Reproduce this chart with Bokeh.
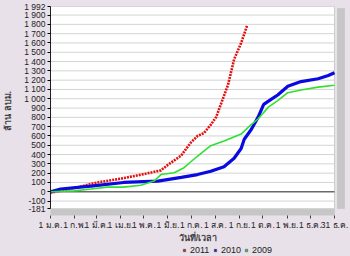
from bokeh.plotting import figure
from bokeh.models import (FixedTicker, LinearAxis, Range1d, Legend, LegendItem,
                          ColumnDataSource, BoxAnnotation)
from bokeh.layouts import column
from bokeh.embed import file_html
from bokeh.resources import INLINE

# ---- data (day of year, cumulative volume, million m3) ----
days_2011 = [0, 31, 60, 90, 120, 142, 151, 168, 180, 189, 197, 206, 213, 222, 228, 236, 245, 253]
vals_2011 = [-10, 40, 100, 140, 190, 230, 290, 390, 525, 600, 630, 720, 805, 1010, 1145, 1425, 1600, 1795]

days_2010 = [0, 13, 52, 94, 138, 168, 189, 206, 223, 236, 245, 249, 258, 267, 274, 283, 292, 305, 322, 344, 357, 365]
vals_2010 = [0, 30, 60, 100, 115, 155, 185, 220, 270, 360, 465, 565, 670, 805, 940, 990, 1040, 1135, 1185, 1215, 1250, 1280]

days_2009 = [0, 30, 52, 73, 94, 116, 133, 142, 159, 171, 180, 193, 206, 223, 245, 255, 267, 280, 292, 305, 322, 344, 365]
vals_2009 = [0, 10, 30, 50, 50, 70, 115, 185, 205, 255, 320, 410, 495, 545, 620, 700, 785, 910, 980, 1065, 1095, 1125, 1145]

x_tick_days = [0, 31, 59, 90, 120, 151, 181, 212, 243, 273, 304, 334, 365]
x_tick_labels = ["1 ม.ค.", "1 ก.พ.", "1 มี.ค.", "1 เม.ย.", "1 พ.ค.", "1 มิ.ย.", "1 ก.ค.",
                 "1 ส.ค.", "1 ก.ย.", "1 ต.ค.", "1 พ.ย.", "1 ธ.ค.", "31 ธ.ค."]
y_ticks = [-181, -100] + list(range(0, 2000, 100)) + [1992]
x_min, x_max = 0, 365
y_min, y_max = -181, 1992
series_names = ["2011", "2010", "2009"]
series_colors = ["#e41010", "#0a0ae0", "#30e030"]
series_days = [days_2011, days_2010, days_2009]
series_vals = [vals_2011, vals_2010, vals_2009]

def fmt(v):
    s = f"{abs(v):,}".replace(",", " ")
    return ("-" if v < 0 else "") + s

BG = "#e9e1e9"
STRIP = "#c6c6c6"
FONT = "Liberation Sans"

# layout geometry (pixels)
W, H, LEG_H = 350, 245, 11
LEFT, TOP, RIGHT_B, BOTTOM_B = 50, 6, 5, 27
STRIP_H = 7
frame_w = W - LEFT - RIGHT_B
frame_h = H - TOP - BOTTOM_B
plot_w_px, plot_h_px = 284, frame_h - STRIP_H     # white area
upx_x = (x_max - x_min) / plot_w_px
upx_y = (y_max - y_min) / plot_h_px
x_end = x_min + frame_w * upx_x
y_start = y_max - frame_h * upx_y

p = figure(width=W, height=H, output_backend="svg", toolbar_location=None,
           x_range=Range1d(x_min, x_end), y_range=Range1d(y_start, y_max),
           x_axis_location=None, y_axis_location=None,
           min_border_left=LEFT, min_border_right=RIGHT_B, min_border_top=TOP,
           min_border_bottom=BOTTOM_B)
p.background_fill_color = BG
p.border_fill_color = BG
p.outline_line_color = None
p.xgrid.visible = False
p.ygrid.visible = False

# white chart area + scroll strips
p.add_layout(BoxAnnotation(left=x_min, right=x_max, bottom=y_min, top=y_max,
                           fill_color="white", fill_alpha=1, line_color="#7a7a7a",
                           line_width=1, level="underlay"))
p.add_layout(BoxAnnotation(left=x_min, right=x_max, bottom=y_start, top=y_min - 1 * upx_y,
                           fill_color=STRIP, fill_alpha=1, line_color="#b0b0b0",
                           line_width=1, level="underlay"))
p.add_layout(BoxAnnotation(left=x_max + 3 * upx_x, right=x_max + 10 * upx_x,
                           bottom=y_min, top=y_max - 2 * upx_y,
                           fill_color=STRIP, fill_alpha=1, line_color="#b0b0b0",
                           line_width=1, level="underlay"))

# grid lines from y ticks
grid_src = ColumnDataSource(data=dict(
    x0=[x_min] * len(y_ticks), x1=[x_max] * len(y_ticks), y=y_ticks,
    c=["#6a6a6a" if v == 0 else "#d4d4d4" for v in y_ticks],
    w=[1.5 if v == 0 else 1 for v in y_ticks]))
p.segment(x0="x0", x1="x1", y0="y", y1="y", source=grid_src, line_color="c", line_width="w")

# y axis
yax = LinearAxis(ticker=FixedTicker(ticks=y_ticks), bounds=(y_min, y_max))
yax.major_label_overrides = {v: fmt(v) for v in y_ticks}
yax.major_label_text_font = FONT
yax.major_label_text_font_size = "8.5px"
yax.major_label_text_color = "#222222"
yax.major_label_standoff = 2
yax.major_tick_out = 3
yax.major_tick_in = 0
yax.minor_tick_line_color = None
yax.axis_line_color = "#202020"
yax.axis_label = "ล้าน ลบม."
yax.axis_label_text_font = FONT
yax.axis_label_text_font_size = "9px"
yax.axis_label_text_font_style = "bold"
yax.axis_label_standoff = 8
p.add_layout(yax, "left")

xax = LinearAxis(ticker=FixedTicker(ticks=x_tick_days), bounds=(x_min, x_max))
xax.major_label_overrides = {d: l for d, l in zip(x_tick_days, x_tick_labels)}
xax.major_label_text_font = FONT
xax.major_label_text_font_size = "8.5px"
xax.major_label_text_color = "#222222"
xax.major_label_standoff = 1
xax.major_tick_out = 3
xax.major_tick_in = 0
xax.major_tick_line_color = "#404040"
xax.minor_tick_line_color = None
xax.axis_line_color = None
xax.axis_label = "วันที่/เวลา"
xax.axis_label_text_font = FONT
xax.axis_label_text_font_size = "9px"
xax.axis_label_text_font_style = "bold"
xax.axis_label_standoff = 0
p.add_layout(xax, "below")

for d, v, col, lw, dash in zip(series_days, series_vals, series_colors,
                               [2.6, 3.2, 1.6], ["2 1", "solid", "solid"]):
    p.line(d, v, line_color=col, line_width=lw, line_dash=dash)

# legend strip as a second small figure (its renderers lie outside its ranges)
lf = figure(width=W, height=LEG_H, output_backend="svg", toolbar_location=None,
            x_range=Range1d(-2, -1), y_range=Range1d(-3000, -2000),
            x_axis_location=None, y_axis_location=None, min_border=0)
lf.background_fill_color = BG
lf.border_fill_color = BG
lf.outline_line_color = None
lf.xgrid.visible = False
lf.ygrid.visible = False
items = []
for name, col, d, v in zip(series_names, series_colors, series_days, series_vals):
    rr = lf.scatter(d, v, marker="square", size=6, fill_color=col,
                    line_color="#505050", line_width=0.6)
    items.append(LegendItem(label=name, renderers=[rr]))
leg = Legend(items=items, orientation="horizontal", location=(131, 1),
             background_fill_alpha=0, border_line_color=None,
             label_text_font=FONT, label_text_font_size="9px", label_text_color="#222222",
             glyph_width=6, glyph_height=6, label_standoff=3, spacing=2,
             padding=0, margin=0, label_height=9)
lf.add_layout(leg, "center")

layout = column(p, lf, spacing=0)
layout.styles = {"background-color": BG}
open("out.html", "w").write(file_html(layout, INLINE))
